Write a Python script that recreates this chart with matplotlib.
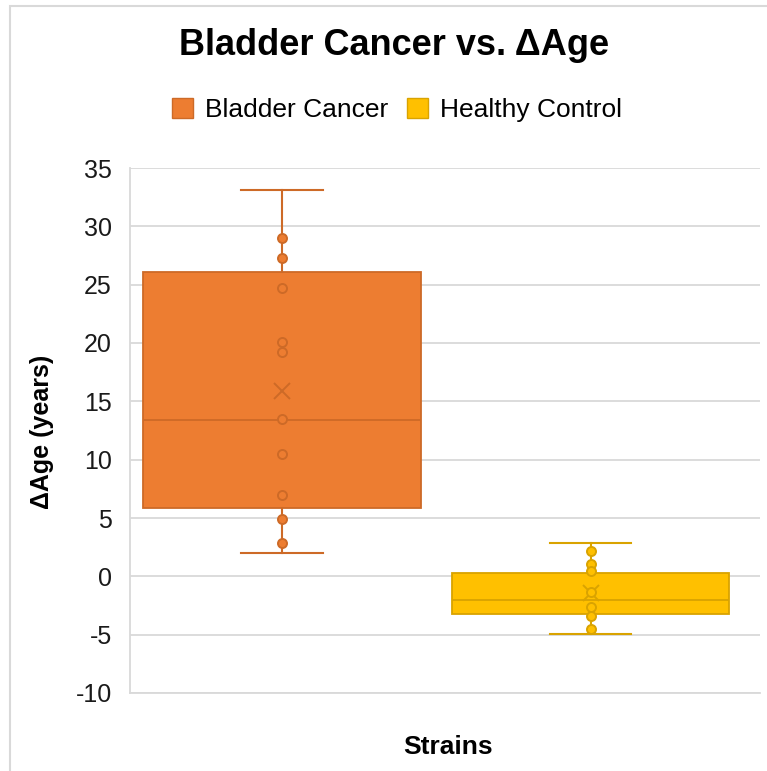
import matplotlib
matplotlib.use("Agg")
import matplotlib.pyplot as plt
from matplotlib.patches import Rectangle, Patch

plt.rcParams['font.family'] = ['Liberation Sans', 'DejaVu Sans']
plt.rcParams['axes.unicode_minus'] = False

# values (Excel box & whisker)
series = ['Bladder Cancer', 'Healthy Control']
box_q1 = [5.9, -3.25]
box_med = [13.4, -2.0]
box_q3 = [26.05, 0.25]
whisk_lo = [2.0, -4.95]
whisk_hi = [33.1, 2.85]
means = [15.9, -1.4]
points_bladder = [29.0, 27.3, 24.7, 20.1, 19.2, 13.5, 10.5, 7.0, 4.9, 2.9]
points_healthy = [2.2, 1.1, 0.45, -1.35, -2.6, -3.4, -4.5]
yticks = list(range(-10, 36, 5))

fills = ['#ED7D31', '#FFC000']
edges = ['#CD6A27', '#D9A300']
positions = [0.241, 0.731]
grid_col = '#D9D9D9'

fig = plt.figure(figsize=(7.67, 7.71), dpi=100)
ax = fig.add_axes([130 / 767, 1 - 693 / 771, 630 / 767, 525 / 771])

all_points = [points_bladder, points_healthy]
for i in range(len(series)):
    st = dict(label=series[i], q1=box_q1[i], med=box_med[i], q3=box_q3[i],
              whislo=whisk_lo[i], whishi=whisk_hi[i], mean=means[i])
    ax.bxp([st], positions=[positions[i]], widths=0.441, capwidths=0.13,
           showmeans=True, showfliers=False, patch_artist=True,
           boxprops=dict(facecolor=fills[i], edgecolor=edges[i], linewidth=1.3),
           medianprops=dict(color=edges[i], linewidth=1.3),
           whiskerprops=dict(color=edges[i], linewidth=1.5),
           capprops=dict(color=edges[i], linewidth=1.5),
           meanprops=dict(marker='x', markeredgecolor=edges[i], markersize=12,
                          markeredgewidth=1.4),
           zorder=3)
    pts = all_points[i]
    ax.plot([positions[i]] * len(pts), pts, 'o', mfc=fills[i], mec=edges[i],
            ms=6.5, mew=1.4, zorder=4)

ax.set_xlim(0, 1)
ax.set_ylim(-10, 35)
ax.set_yticks(yticks)
ax.set_xticks([])
ax.yaxis.grid(True, color=grid_col, linewidth=1.3)
ax.set_axisbelow(True)
for s in ['top', 'right']:
    ax.spines[s].set_visible(False)
for s in ['left', 'bottom']:
    ax.spines[s].set_color(grid_col)
    ax.spines[s].set_linewidth(1.3)
ax.tick_params(axis='y', length=0, pad=13, labelsize=18, labelcolor='#1a1a1a')

fig.text(394 / 767, 1 - 55 / 771, 'Bladder Cancer vs. ΔAge', ha='center',
         va='baseline', fontsize=26, fontweight='bold')
fig.text(448 / 767, 1 - 754.5 / 771, 'Strains', ha='center', va='baseline',
         fontsize=19, fontweight='bold')
fig.text(42 / 767, 1 - 432 / 771, 'ΔAge (years)', ha='center', va='center',
         rotation=90, fontsize=18, fontweight='bold')

handles = [Patch(facecolor=fills[i], edgecolor=edges[i], linewidth=1) for i in range(2)]
fig.legend(handles, series, loc='center', bbox_to_anchor=(397 / 767, 1 - 110 / 771),
           ncol=2, frameon=False, fontsize=19, handlelength=0.8, handleheight=0.8,
           handletextpad=0.45, columnspacing=0.72)

# chart area border (cropped on the right/bottom in the reference)
fig.patches.append(Rectangle((10 / 767, -0.05), 1.2, 1.05 - 6 / 771,
                             transform=fig.transFigure, fill=False,
                             edgecolor=grid_col, linewidth=1.5))

fig.savefig('out.png', dpi=100)
